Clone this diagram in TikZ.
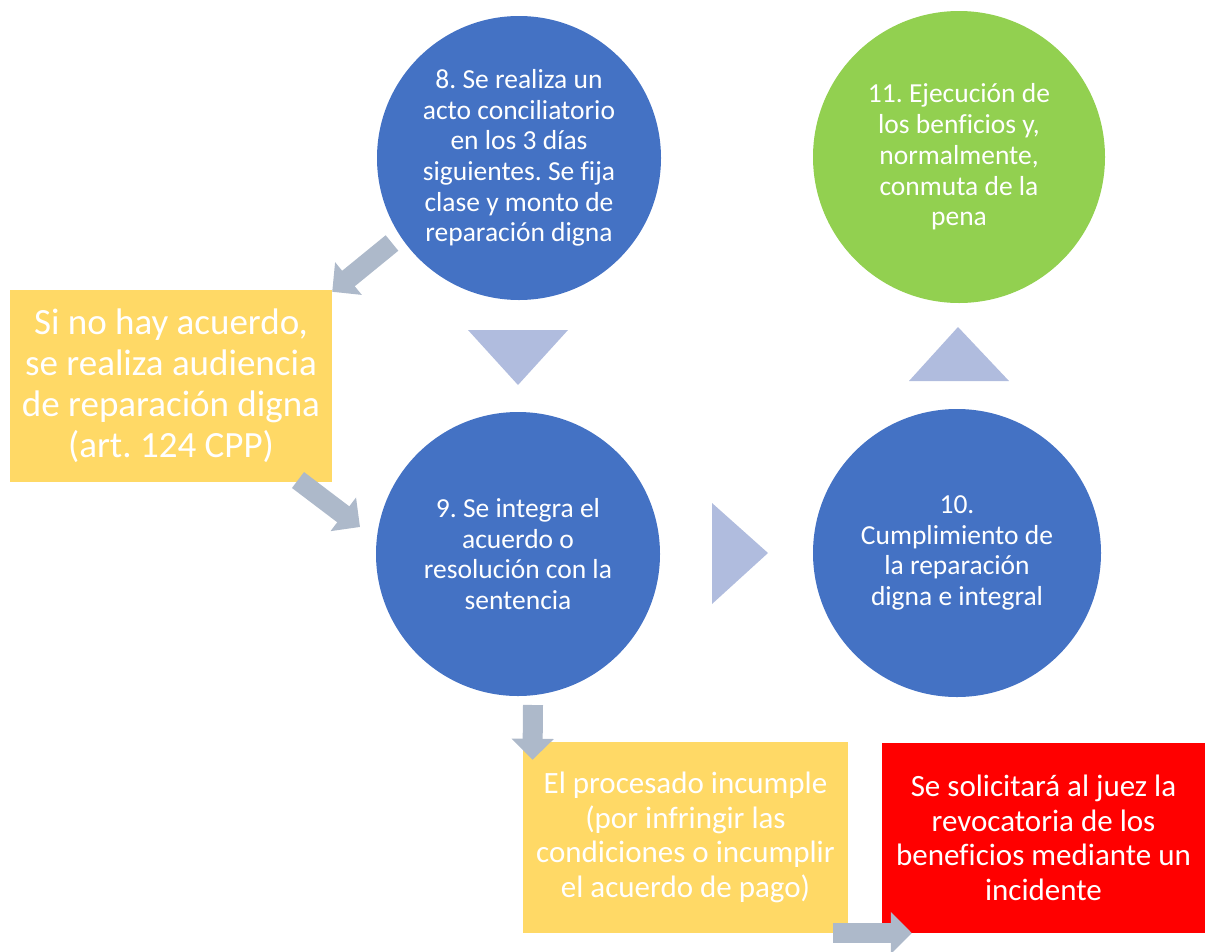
\documentclass[tikz,border=0pt]{standalone}
\usepackage{fontspec}
\setmainfont{Carlito}[Ligatures=NoCommon]
\usepackage{tikz}
\usetikzlibrary{arrows.meta}
\frenchspacing

\definecolor{stageblue}{RGB}{68,114,196}
\definecolor{stagegreen}{RGB}{146,208,80}
\definecolor{noteyellow}{RGB}{255,217,102}
\definecolor{alertred}{RGB}{255,0,0}
\definecolor{arrowgray}{RGB}{173,185,202}
\definecolor{trifill}{RGB}{176,188,222}

\begin{document}
\begin{tikzpicture}[x=1pt,y=-1pt,
    stage/.style={circle,fill=stageblue,minimum size=284pt,inner sep=0pt,align=center,text=white,font={\fontsize{27.5pt}{30.7pt}\selectfont}},
    note/.style={rectangle,fill=noteyellow,inner sep=0pt,align=center,text=white},
    bigarrow/.style={draw=arrowgray,line width=20pt,-{Triangle[length=21pt,width=41pt]}},
    tri/.style={fill=trifill}]
    \useasboundingbox (0,0) rectangle (1205,951);

    \node[stage] (realiza) at (519,158) {8. Se realiza un\\acto conciliatorio\\en los 3 días\\siguientes. Se fija\\clase y monto de\\reparación digna};
    \node[stage,fill=stagegreen,minimum size=292pt] (ejecucion) at (959,157) {11. Ejecución de\\los benficios y,\\normalmente,\\conmuta de la\\pena};
    \node[stage] (integra) at (518,554) {9. Se integra el\\acuerdo o\\resolución con la\\sentencia};
    \node[stage,minimum size=288pt] (cumplimiento) at (957,553) {10.\\Cumplimiento de\\la reparación\\digna e integral};

    \node[note,minimum width=322pt,minimum height=192pt,font={\fontsize{37pt}{41pt}\selectfont}] (audiencia) at (171,386) {Si no hay acuerdo,\\se realiza audiencia\\de reparación digna\\(art. 124 CPP)};
    \node[note,minimum width=325pt,minimum height=191pt,font={\fontsize{31pt}{34.5pt}\selectfont}] (incumple) at (685.5,837.5) {El procesado incumple\\(por infringir las\\condiciones o incumplir\\el acuerdo de pago)};
    \node[note,fill=alertred,minimum width=323pt,minimum height=190pt,font={\fontsize{31pt}{34.5pt}\selectfont}] (revocatoria) at (1043.5,838) {Se solicitará al juez la\\revocatoria de los\\beneficios mediante un\\incidente};

    % chevrons between the stages
    \fill[tri] (468,330) -- (568,330) -- (518,385) -- cycle;
    \fill[tri] (712,503) -- (768,553) -- (712,604) -- cycle;
    \fill[tri] (909,381) -- (1009,381) -- (958,327) -- cycle;

    \coordinate (fromrealiza) at (392,243);
    \coordinate (fromaudiencia) at (298,480);
    \coordinate (tointegra) at (360,527);
    \coordinate (fromintegra) at (533,705);
    \coordinate (fromincumple) at (833,933);

    \draw[bigarrow] (fromrealiza) -- ([yshift=-2pt]audiencia.north east);
    \draw[bigarrow] (fromaudiencia) -- (tointegra);
    \draw[bigarrow] (fromintegra) -- ([xshift=-153pt,yshift=-18pt]incumple.north);
    \draw[bigarrow] (fromincumple) -- ([xshift=30pt]fromincumple -| revocatoria.west);
\end{tikzpicture}
\end{document}
